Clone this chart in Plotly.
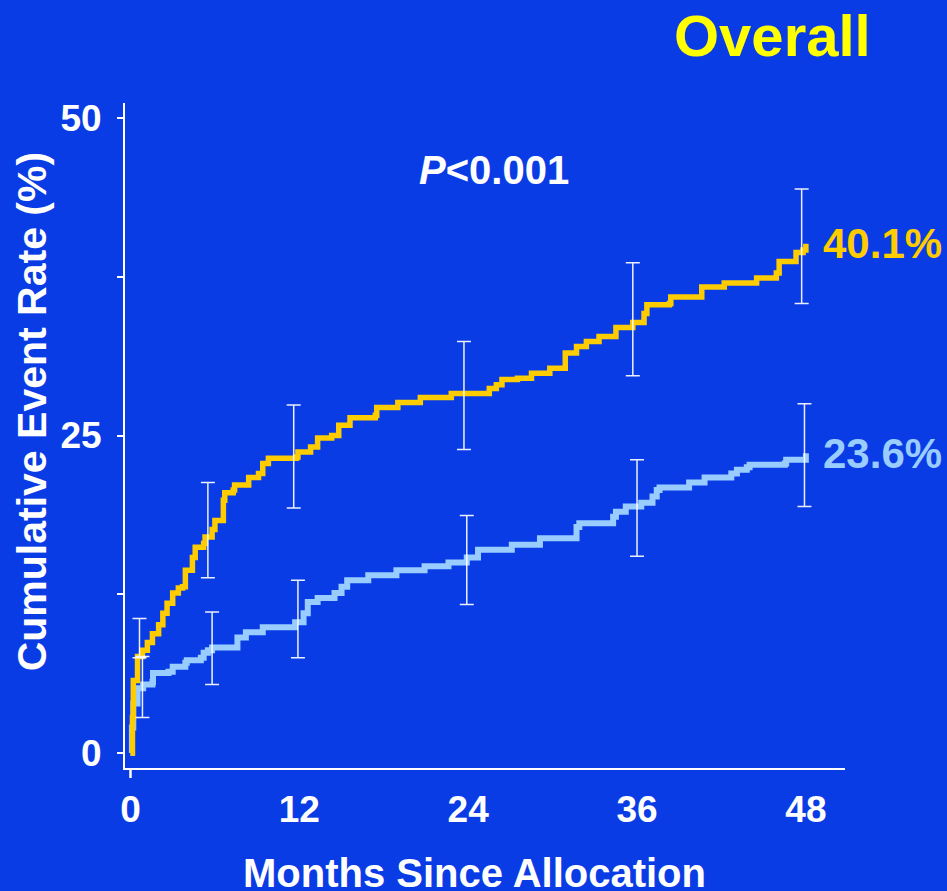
import plotly.graph_objects as go

# ---- data ----
# Standard therapy (gold curve)
months_std = [0, 0.14, 0.2, 0.5, 0.85, 1.2, 1.56, 2.0, 2.3, 2.6, 3.0, 3.4, 3.7, 3.9, 4.4, 4.6,
              5.2, 5.3, 5.8, 6.0, 6.6, 6.6, 6.7, 7.3, 7.4, 8.3, 8.4, 9.1, 9.4, 9.8, 11.8, 11.9,
              12.8, 13.3, 14.3, 14.8, 15.6, 17.4, 17.5, 18.9, 19.0, 20.4, 20.6, 22.8, 22.8,
              25.4, 25.5, 26.0, 26.4, 27.5, 28.5, 29.8, 30.9, 31.7, 32.4, 33.3, 34.5, 35.7,
              36.5, 36.7, 38.3, 38.4, 40.4, 40.6, 42.1, 42.2, 44.3, 44.5, 45.9, 46.1, 47.2,
              47.3, 47.8, 48.0]
rate_std = [0, 2.8, 5.7, 7.6, 8.1, 8.7, 9.4, 10.1, 11.0, 11.8, 12.6, 13.0, 13.1, 14.4, 15.4, 16.2,
            16.5, 17.0, 17.6, 18.3, 18.5, 19.9, 20.5, 20.7, 21.1, 21.1, 21.7, 22.0, 22.8, 23.2, 23.3, 23.7,
            24.1, 24.8, 25.0, 25.8, 26.4, 26.6, 27.2, 27.2, 27.6, 27.6, 28.0, 28.0, 28.3,
            28.3, 28.7, 29.0, 29.4, 29.5, 29.9, 30.3, 31.5, 32.0, 32.4, 32.8, 33.5, 33.9,
            34.6, 35.3, 35.4, 35.9, 35.9, 36.7, 36.7, 37.0, 37.0, 37.4, 37.8, 38.7, 38.7,
            39.4, 39.6, 40.1]

# Treatment (light-blue curve)
months_trt = [0, 0.1, 0.2, 0.5, 0.9, 1.56, 1.6, 2.7, 3.0, 3.9, 4.0, 5.0, 5.2, 5.5, 5.8, 7.3, 7.6,
              8.2, 9.4, 9.4, 11.5, 11.7, 12.3, 12.6, 13.3, 14.4, 14.5, 15.0, 15.4, 16.8, 16.9,
              18.8, 18.9, 20.8, 20.9, 22.5, 22.6, 23.6, 23.9, 24.6, 24.7, 27.0, 27.1, 28.9, 29.1,
              31.4, 31.7, 31.9, 34.0, 34.3, 34.5, 35.1, 35.2, 36.2, 36.3, 36.9, 37.1, 37.4, 37.6,
              39.6, 39.7, 40.6, 40.8, 42.6, 42.7, 43.1, 43.8, 44.0, 46.5, 46.6, 47.7, 48.0]
rate_trt = [0, 2.0, 3.9, 5.1, 5.4, 5.6, 6.3, 6.4, 6.8, 7.1, 7.3, 7.5, 7.9, 8.1, 8.3, 8.3, 9.1,
            9.5, 9.5, 9.9, 9.9, 10.3, 11.0, 11.9, 12.2, 12.2, 12.6, 13.1, 13.6, 13.6, 14.0,
            14.0, 14.4, 14.4, 14.7, 14.7, 15.0, 15.0, 15.4, 15.4, 16.0, 16.0, 16.4, 16.4, 16.9,
            16.9, 17.8, 18.1, 18.1, 18.6, 19.0, 19.0, 19.4, 19.4, 19.7, 19.7, 20.2, 20.7, 20.9,
            20.9, 21.3, 21.3, 21.7, 21.7, 22.0, 22.3, 22.5, 22.7, 22.8, 23.1, 23.1, 23.6]

# Confidence intervals
ci_months_std = [0.64, 5.5, 11.6, 23.7, 35.7, 47.7]
ci_mid_std = [8.0, 17.4, 23.4, 28.2, 33.9, 39.9]
ci_low_std = [7.5, 13.8, 19.3, 23.9, 29.7, 35.4]
ci_high_std = [10.6, 21.3, 27.4, 32.4, 38.6, 44.4]

ci_months_trt = [0.85, 5.8, 11.9, 23.9, 36.0, 47.9]
ci_mid_trt = [5.4, 8.3, 10.3, 15.2, 19.4, 23.3]
ci_low_trt = [2.8, 5.4, 7.5, 11.7, 15.5, 19.4]
ci_high_trt = [7.6, 11.1, 13.6, 18.7, 23.1, 27.5]

x_ticks = [0, 12, 24, 36, 48]
y_ticks = [0, 12.5, 25, 37.5, 50]
y_ticktext = ["0", "", "25", "", "50"]

end_std = "40.1%"
end_trt = "23.6%"

# ---- style ----
BG = "#0a3ce6"
GOLD = "#FFCC00"
LBLUE = "#99CCFF"
FONT = "Liberation Sans, Arial, Helvetica, sans-serif"

fig = go.Figure()
fig.add_trace(go.Scatter(x=months_trt, y=rate_trt, mode="lines",
                         line=dict(color=LBLUE, width=6, shape="hv"), hoverinfo="skip"))
fig.add_trace(go.Scatter(x=months_std, y=rate_std, mode="lines",
                         line=dict(color=GOLD, width=5.5, shape="hv"), hoverinfo="skip"))

for mx, mid, lo, hi in [(ci_months_std, ci_mid_std, ci_low_std, ci_high_std),
                        (ci_months_trt, ci_mid_trt, ci_low_trt, ci_high_trt)]:
    fig.add_trace(go.Scatter(
        x=mx, y=mid, mode="markers",
        marker=dict(size=1, color="rgba(0,0,0,0)"),
        error_y=dict(type="data", symmetric=False,
                     array=[h - m for h, m in zip(hi, mid)],
                     arrayminus=[m - l for m, l in zip(mid, lo)],
                     color="rgba(255,255,255,0.92)", thickness=1.5, width=7),
        hoverinfo="skip"))

fig.update_layout(
    width=947, height=891,
    margin=dict(l=125, r=102, t=103, b=123),
    paper_bgcolor=BG, plot_bgcolor=BG,
    showlegend=False,
    font=dict(family=FONT, color="white"),
    xaxis=dict(range=[-0.39, 50.78], showline=True, linecolor="white", linewidth=2,
               showgrid=False, zeroline=False, ticks="", tickvals=x_ticks,
               tickfont=dict(size=37, color="white", family=FONT, weight="bold"),
               ticklabelstandoff=8),
    yaxis=dict(range=[-1.18, 51.18], showline=True, linecolor="white", linewidth=2,
               showgrid=False, zeroline=False, ticks="outside", ticklen=6, tickwidth=2,
               tickcolor="white", tickvals=y_ticks, ticktext=y_ticktext,
               tickfont=dict(size=37, color="white", family=FONT, weight="bold"),
               ticklabelstandoff=8),
)

# single tick mark under x = 0
fig.add_shape(type="line", xref="x", yref="paper", x0=0, x1=0, y0=0, y1=-0.015,
              line=dict(color="white", width=2.5))

ann_font = lambda size, color: dict(size=size, color=color, family=FONT, weight="bold")
fig.add_annotation(text="Cumulative Event Rate (%)", xref="paper", yref="paper",
                   x=-0.129, y=0.535, textangle=-90, showarrow=False,
                   xanchor="center", yanchor="middle", font=ann_font(41, "white"))
fig.add_annotation(text="Months Since Allocation", xref="paper", yref="paper",
                   x=0.486, y=-0.158, showarrow=False, xanchor="center", yanchor="middle",
                   font=ann_font(40, "white"))
fig.add_annotation(text="Overall", xref="paper", yref="paper", x=0.899, y=1.102,
                   showarrow=False, xanchor="center", yanchor="middle",
                   font=ann_font(58, "#FFFF00"))
fig.add_annotation(text="<i>P</i>&lt;0.001", xref="paper", yref="paper", x=0.5125, y=0.899,
                   showarrow=False, xanchor="center", yanchor="middle",
                   font=ann_font(40, "white"))
fig.add_annotation(text=end_std, xref="x", yref="y", x=months_std[-1], y=rate_std[-1],
                   xanchor="left", yanchor="middle", xshift=15, showarrow=False,
                   font=ann_font(42, GOLD))
fig.add_annotation(text=end_trt, xref="x", yref="y", x=months_trt[-1], y=rate_trt[-1],
                   xanchor="left", yanchor="middle", xshift=15, showarrow=False,
                   font=ann_font(42, LBLUE))

fig.write_html(
    "out.html",
    config={"displayModeBar": False},
    post_script="document.body.style.margin='0';document.body.style.overflow='hidden';"
                "document.body.style.background='" + BG + "';",
)
